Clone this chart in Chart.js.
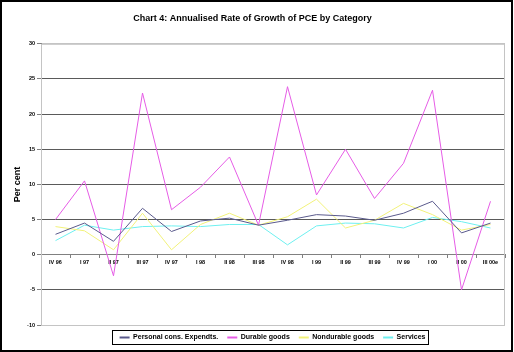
<!DOCTYPE html>
<html>
<head>
<meta charset="utf-8">
<script src="https://cdn.jsdelivr.net/npm/chart.js@4/dist/chart.umd.min.js"></script>
<style>
  html, body { margin: 0; padding: 0; background: #fff; }
  #wrap { width: 514px; height: 352px; }
</style>
</head>
<body>
<div id="wrap"><canvas id="chart" width="514" height="352"></canvas></div>
<script>
// quarters along the x axis
const quarters = ["IV 96", "I 97", "II 97", "III 97", "IV 97", "I 98", "II 98", "III 98",
                  "IV 98", "I 99", "II 99", "III 99", "IV 99", "I 00", "II 00", "III 00e"];

// annualised growth, per cent
const pce        = [2.9, 4.5, 1.9, 6.6, 3.3, 4.8, 5.2, 4.2, 4.9, 5.7, 5.5, 4.9, 5.9, 7.6, 3.1, 4.5];
const durable    = [5.0, 10.5, -3.0, 23.0, 6.4, 9.6, 13.9, 4.2, 23.9, 8.5, 15.0, 8.0, 13.0, 23.4, -5.0, 7.6];
const nondurable = [4.0, 3.4, 0.7, 5.9, 0.7, 4.3, 5.9, 4.2, 5.4, 7.9, 3.8, 4.9, 7.3, 5.7, 3.5, 4.3];
const services   = [2.0, 4.2, 3.5, 4.0, 4.1, 4.0, 4.3, 4.3, 1.4, 4.1, 4.5, 4.4, 3.8, 5.3, 4.7, 3.8];

const seriesNames = ["Personal cons. Expendts.", "Durable goods", "Nondurable goods", "Services"];
const seriesColors = ["#5a5a8c", "#e65ce6", "#f2f27a", "#6ef0f0"];

const yTicks = { min: -10, max: 30, step: 5 };

function line(i, data) {
    return {
        label: seriesNames[i],
        data: data,
        borderColor: seriesColors[i],
        backgroundColor: seriesColors[i],
        borderWidth: 1,
        pointRadius: 0,
        tension: 0,
        fill: false
    };
}

// frame round the plot area and the black border of the picture
const frames = {
    id: "frames",
    afterLayout(chart) {
        // legend box sits a little right of centre in the original
        chart.legend.left += 20;
        chart.legend.right += 20;
    },
    beforeDatasetsDraw(chart) {
        const a = chart.chartArea;
        const c = chart.ctx;
        c.save();
        c.strokeStyle = "#c4c4c4";
        c.lineWidth = 1;
        c.strokeRect(a.left + 0.5, a.top + 0.5, a.right - a.left - 1, a.bottom - a.top);
        c.restore();
    },
    afterDraw(chart) {
        const c = chart.ctx;
        c.save();
        // legend border
        const boxes = chart.legend.legendHitBoxes;
        if (boxes && boxes.length) {
            const first = boxes[0], last = boxes[boxes.length - 1];
            c.strokeStyle = "#000";
            c.lineWidth = 1;
            c.strokeRect(Math.round(first.left) - 7.5, Math.round(first.top) - 3.5,
                         Math.round(last.left + last.width - first.left) + 10, Math.round(first.height) + 7);
        }
        c.strokeStyle = "#000";
        c.lineWidth = 2;
        c.strokeRect(1, 1, chart.width - 3, chart.height - 2);
        c.restore();
    }
};

const tinyFont = { family: "Arial, 'Liberation Sans', sans-serif", size: 5.5, weight: "bold" };

new Chart(document.getElementById("chart"), {
    type: "line",
    data: {
        labels: quarters,
        datasets: [line(0, pce), line(1, durable), line(2, nondurable), line(3, services)]
    },
    options: {
        responsive: false,
        animation: false,
        layout: { padding: { left: 0, right: 9, top: 0, bottom: 1 } },
        plugins: {
            title: {
                display: true,
                text: "Chart 4: Annualised Rate of Growth of PCE by Category",
                color: "#000",
                font: { family: "Arial, 'Liberation Sans', sans-serif", size: 9, weight: "bold" },
                padding: { top: 13, bottom: 20 }
            },
            legend: {
                position: "bottom",
                labels: {
                    usePointStyle: true,
                    pointStyle: "line",
                    pointStyleWidth: 10,
                    padding: 9,
                    color: "#000",
                    font: { family: "Arial, 'Liberation Sans', sans-serif", size: 7, weight: "bold" },
                    generateLabels(chart) {
                        // thicker sample lines, in each series' colour
                        return chart.data.datasets.map((ds, i) => ({
                            text: ds.label,
                            strokeStyle: ds.borderColor,
                            fillStyle: ds.borderColor,
                            lineWidth: 2,
                            pointStyle: "line",
                            hidden: false,
                            datasetIndex: i
                        }));
                    }
                }
            },
            tooltip: { enabled: false }
        },
        scales: {
            x: {
                type: "category",
                position: { y: 0 },
                offset: true,
                grid: {
                    offset: true,
                    drawOnChartArea: false,
                    drawTicks: true,
                    tickLength: 3,
                    tickColor: "#808080"
                },
                border: { display: true, color: "#808080", width: 1 },
                ticks: {
                    autoSkip: false,
                    maxRotation: 0,
                    padding: 1,
                    color: "#000",
                    font: tinyFont
                }
            },
            y: {
                min: yTicks.min,
                max: yTicks.max,
                afterFit(scale) { scale.width = 41; },
                grid: {
                    color(ctx) {
                        const v = ctx.tick ? ctx.tick.value : null;
                        if (v === 0) return "rgba(0,0,0,0)";
                        if (v === yTicks.max) return "#c4c4c4";
                        if (v === yTicks.min) return "#a0a0a0";
                        return "#5a5a5a";
                    },
                    tickColor: "#808080",
                    tickLength: 4,
                    lineWidth: 1
                },
                border: { display: true, color: "#808080", width: 1 },
                ticks: {
                    stepSize: yTicks.step,
                    padding: 2,
                    color: "#000",
                    font: tinyFont
                },
                title: {
                    display: true,
                    text: "Per cent",
                    color: "#000",
                    font: { family: "Arial, 'Liberation Sans', sans-serif", size: 9, weight: "bold" },
                    padding: { top: 12, bottom: 0 }
                }
            }
        }
    },
    plugins: [frames]
});
</script>
</body>
</html>
